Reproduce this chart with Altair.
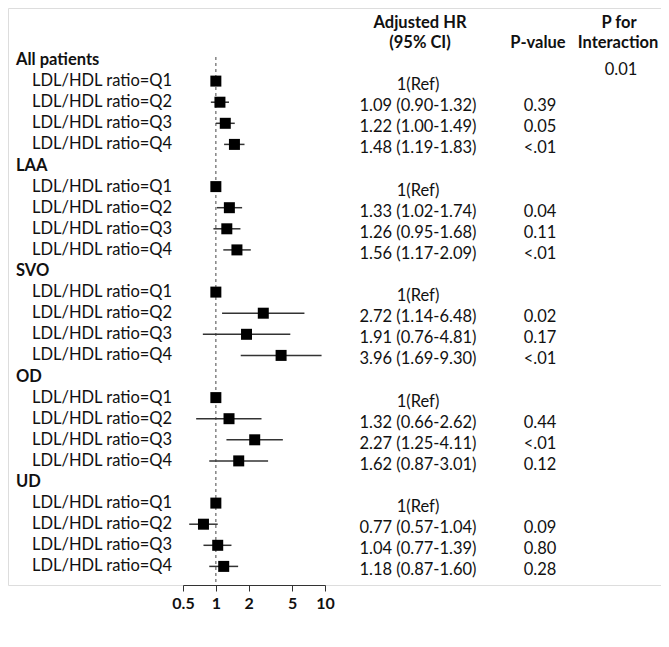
import altair as alt
import pandas as pd

groups = ["All patients", "LAA", "SVO", "OD", "UD"]
quartiles = ["Q1", "Q2", "Q3", "Q4"]
hr = [[1.00, 1.09, 1.22, 1.48],
      [1.00, 1.33, 1.26, 1.56],
      [1.00, 2.72, 1.91, 3.96],
      [1.00, 1.32, 2.27, 1.62],
      [1.00, 0.77, 1.04, 1.18]]
lo = [[None, 0.90, 1.00, 1.19],
      [None, 1.02, 0.95, 1.17],
      [None, 1.14, 0.76, 1.69],
      [None, 0.66, 1.25, 0.87],
      [None, 0.57, 0.77, 0.87]]
hi = [[None, 1.32, 1.49, 1.83],
      [None, 1.74, 1.68, 2.09],
      [None, 6.48, 4.81, 9.30],
      [None, 2.62, 4.11, 3.01],
      [None, 1.04, 1.39, 1.60]]
hr_text = [["1(Ref)", "1.09 (0.90-1.32)", "1.22 (1.00-1.49)", "1.48 (1.19-1.83)"],
           ["1(Ref)", "1.33 (1.02-1.74)", "1.26 (0.95-1.68)", "1.56 (1.17-2.09)"],
           ["1(Ref)", "2.72 (1.14-6.48)", "1.91 (0.76-4.81)", "3.96 (1.69-9.30)"],
           ["1(Ref)", "1.32 (0.66-2.62)", "2.27 (1.25-4.11)", "1.62 (0.87-3.01)"],
           ["1(Ref)", "0.77 (0.57-1.04)", "1.04 (0.77-1.39)", "1.18 (0.87-1.60)"]]
p_text = [["", "0.39", "0.05", "<.01"],
          ["", "0.04", "0.11", "<.01"],
          ["", "0.02", "0.17", "<.01"],
          ["", "0.44", "<.01", "0.12"],
          ["", "0.09", "0.80", "0.28"]]
p_interaction = "0.01"
x_ticks = [0.5, 1, 2, 5, 10]

head_rows, rows = [], []
for g, name in enumerate(groups):
    head_rows.append({"row": g * 5, "label": name})
    for q in range(4):
        rows.append({
            "row": g * 5 + q + 1,
            "label": f"LDL/HDL ratio={quartiles[q]}",
            "hr": hr[g][q], "lo": lo[g][q], "hi": hi[g][q],
            "hrtxt": hr_text[g][q], "ptxt": p_text[g][q],
        })
hdf = pd.DataFrame(head_rows)
df = pd.DataFrame(rows)
ci = df.dropna(subset=["lo"])

FONT = "Lato"
FS = 16.5
xscale = alt.Scale(type="log", domain=[0.5, 10], range=[175, 317])
yscale = alt.Scale(domain=[0, 24], range=[52, 558.4])
Y = alt.Y("row:Q", scale=yscale, axis=None)

xaxis = alt.Axis(values=x_ticks, format="~g", grid=False, title=None,
                 domainColor="#333", tickColor="#333", tickSize=6,
                 labelFont=FONT, labelFontSize=16, labelFontWeight="bold",
                 labelColor="#111", labelPadding=4, labelFlush=False)

base = alt.Chart(df)

ref = alt.Chart(pd.DataFrame({"x": [1]})).mark_rule(
    strokeDash=[3, 3], color="#666", strokeWidth=1.2
).encode(x=alt.X("x:Q", scale=xscale, axis=xaxis), y=alt.value(49), y2=alt.value(577))

ci_rule = alt.Chart(ci).mark_rule(color="#333", strokeWidth=1.5).encode(
    x=alt.X("lo:Q", scale=xscale), x2="hi:Q", y=Y)

squares = base.mark_square(size=121, color="black", opacity=1).encode(
    x=alt.X("hr:Q", scale=xscale), y=Y)

head_txt = alt.Chart(hdf).mark_text(align="left", font=FONT, fontSize=FS,
                                    fontWeight="bold", color="#111").encode(
    x=alt.value(8), y=Y, text="label:N")

sub_txt = base.mark_text(align="left", font=FONT, fontSize=FS, color="#111").encode(
    x=alt.value(24), y=Y, text="label:N")

hr_col = base.mark_text(align="center", font=FONT, fontSize=FS, color="#111", dy=4).encode(
    x=alt.value(410), y=Y, text="hrtxt:N")

p_col = base.mark_text(align="center", font=FONT, fontSize=FS, color="#111", dy=4).encode(
    x=alt.value(532), y=Y, text="ptxt:N")

def hdr(t, x, y, bold=True):
    return alt.Chart(pd.DataFrame({"t": [t]})).mark_text(
        align="center", font=FONT, fontSize=FS,
        fontWeight="bold" if bold else "normal", color="#111"
    ).encode(x=alt.value(x), y=alt.value(y), text="t:N")

headers = [
    hdr("Adjusted HR", 412, 15), hdr("(95% CI)", 412, 35),
    hdr("P-value", 530, 35),
    hdr("P for", 611, 15), hdr("Interaction", 610, 35),
    hdr(p_interaction, 613, 62, bold=False),
]

chart = alt.layer(ref, ci_rule, squares, head_txt, sub_txt, hr_col, p_col, *headers).properties(
    width=653, height=577,
    padding={"left": 0, "top": 0, "right": 0, "bottom": 50},
    autosize="none"
).configure_view(stroke=None).configure(background="white")

chart.save("out.html", embed_options={"renderer": "svg", "actions": False})
